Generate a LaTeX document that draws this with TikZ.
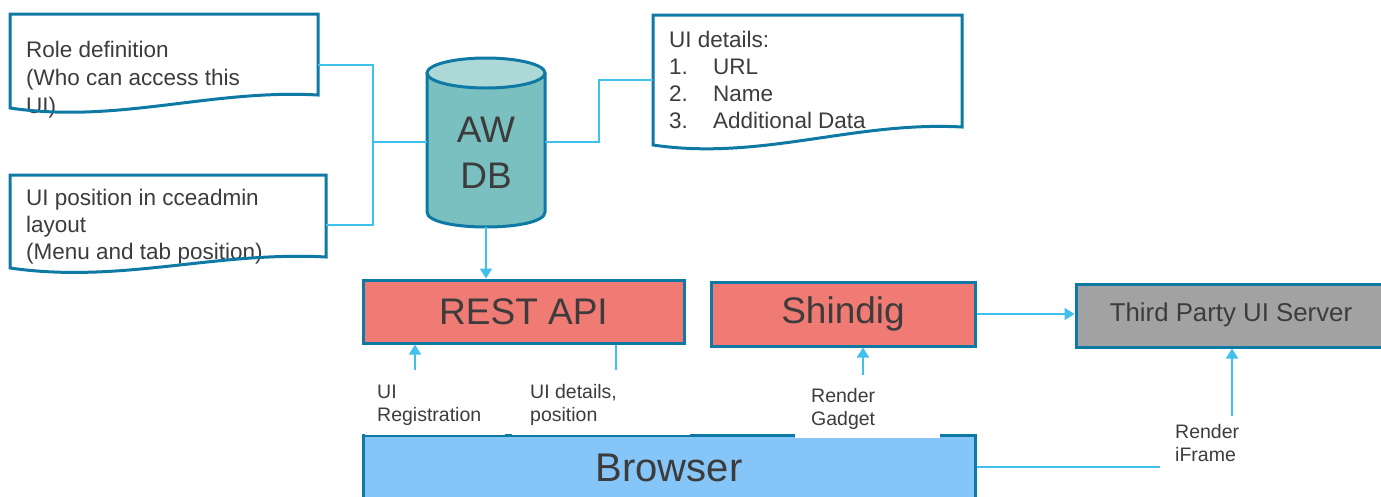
\documentclass[tikz,border=0pt]{standalone}
\usepackage{fontspec}
\setmainfont{Liberation Sans}
\usetikzlibrary{arrows.meta}
\definecolor{bord}{RGB}{14,122,164}
\definecolor{cyanl}{RGB}{64,192,236}
\definecolor{salmon}{RGB}{240,122,116}
\definecolor{grayf}{RGB}{162,162,162}
\definecolor{browf}{RGB}{134,197,247}
\definecolor{tealf}{RGB}{122,192,192}
\definecolor{tealt}{RGB}{172,216,216}
\definecolor{txt}{RGB}{60,60,60}
\tikzset{
  box/.style={draw=bord, line width=3pt, inner sep=0pt, text=txt},
  link/.style={draw=cyanl, line width=1.8pt},
  arr/.style={link, -{Triangle[width=12pt,length=10pt]}},
  lbl/.style={font=\fontsize{19.5}{23}\selectfont, text=txt, anchor=base west, inner sep=0pt},
  doctext/.style={font=\fontsize{22.5}{27}\selectfont, text=txt, anchor=base west, inner sep=0pt},
  bigtext/.style={font=\fontsize{37}{44}\selectfont},
  docline/.style={draw=bord, line width=3pt, line join=miter},
}
\newcommand{\docpath}[5]{(#1,#2) -- (#3,#2) -- (#3,#4) .. controls ({#3-0.35*(#3-#1)},{#4-6}) and ({#1+0.35*(#3-#1)},{#5+16}) .. (#1,#5) -- cycle}
\begin{document}
\begin{tikzpicture}[x=1pt,y=-1pt]
\useasboundingbox (0,0) rectangle (1381,496);
\clip (0,0) rectangle (1381,496);

% documents
\fill[white] \docpath{10}{14}{318}{95}{108};
\node[doctext] (d1a) at (26,57) {Role definition};
\node[doctext] (d1b) at (26,85) {(Who can access this};
\node[doctext] (d1c) at (26,113) {UI)};
\draw[docline] \docpath{10}{14}{318}{95}{108};
\node[inner sep=0pt, minimum width=308pt, minimum height=81pt] (doc1) at (164,54.5) {};

\fill[white] \docpath{10}{175}{326}{257}{268};
\node[doctext] (d2a) at (26,205) {UI position in cceadmin};
\node[doctext] (d2b) at (26,232) {layout};
\node[doctext] (d2c) at (26,259) {(Menu and tab position)};
\draw[docline] \docpath{10}{175}{326}{257}{268};
\node[inner sep=0pt, minimum width=316pt, minimum height=82pt] (doc2) at (168,216) {};

\fill[white] \docpath{653}{15}{962}{127}{145};
\node[doctext] (d3a) at (669,47) {UI details:};
\node[doctext] (d3n1) at (669,74) {1.};
\node[doctext] (d3t1) at (713,74) {URL};
\node[doctext] (d3n2) at (669,101) {2.};
\node[doctext] (d3t2) at (713,101) {Name};
\node[doctext] (d3n3) at (669,128) {3.};
\node[doctext] (d3t3) at (713,128) {Additional Data};
\draw[docline] \docpath{653}{15}{962}{127}{145};
\node[inner sep=0pt, minimum width=309pt, minimum height=112pt] (doc3) at (807.5,71) {};

% database cylinder
\fill[tealf] (427,73) -- (427,212) .. controls (427,232) and (545,232) .. (545,212) -- (545,73) -- cycle;
\draw[bord, line width=3pt] (427,73) -- (427,212) .. controls (427,232) and (545,232) .. (545,212) -- (545,73);
\draw[bord, line width=3pt, fill=tealt] (486,73) ellipse [x radius=59pt, y radius=15pt];
\node[inner sep=0pt, minimum width=118pt, minimum height=169pt] (db) at (486,142.5) {};
\node[bigtext, text=txt, inner sep=0pt, anchor=base] (dbt1) at (486,142) {AW};
\node[bigtext, text=txt, inner sep=0pt, anchor=base] (dbt2) at (486,188) {DB};

% boxes
\node[box, fill=salmon, minimum width=321pt, minimum height=63pt, bigtext] (rest) at (523.5,311.5) {REST API};
\node[box, fill=salmon, minimum width=264pt, minimum height=64pt, bigtext] (shin) at (843,314) {Shindig};
\node[box, fill=grayf, minimum width=316pt, minimum height=63pt] (third) at (1234,315.5) {};
\node[text=txt, font=\fontsize{25.8}{30}\selectfont, inner sep=0pt] (thirdt) at (1231,315) {Third Party UI Server};
\node[box, fill=browf, minimum width=612pt, minimum height=66pt, font=\fontsize{40}{46}\selectfont] (brow) at (669,468) {Browser};

% label backgrounds cutting the browser top border
\fill[white] (365,378) rectangle (505,435.2);
\fill[white] (512,378) rectangle (690,435.2);
\fill[white] (795,378) rectangle (940,437.5);

% connectors
\coordinate (j1) at (373,65);
\coordinate (j2) at (373,225);
\coordinate (j3) at (373,142);
\draw[link] (doc1.east |- j1) -- (j1) -- (j2) -- (doc2.east |- j2);
\draw[link] (j3) -- (db.west |- j3);
\coordinate (k1) at (599,142);
\coordinate (k2) at (599,80);
\draw[link] (db.east |- k1) -- (k1) -- (k2) -- (doc3.west |- k2);
\draw[arr] (db.south) -- (rest.north -| db.south);
\draw[arr] (shin.east) -- (third.west |- shin.east);

\coordinate (reg) at (415,370);
\draw[arr] (reg) -- (reg |- rest.south);
\coordinate (det) at (616,370);
\draw[link] (det |- rest.south) -- (det);
\coordinate (gad) at (863,375);
\draw[arr] (gad) -- (gad |- shin.south);
\coordinate (ifr) at (1232,416);
\draw[arr] (ifr) -- (ifr |- third.south);
\coordinate (bl) at (1160,467);
\draw[link] (brow.east |- bl) -- (bl);

% labels
\node[lbl] (l1a) at (377,398) {UI};
\node[lbl] (l1b) at (377,421) {Registration};
\node[lbl] (l2a) at (530,398) {UI details,};
\node[lbl] (l2b) at (530,421) {position};
\node[lbl] (l3a) at (811,402) {Render};
\node[lbl] (l3b) at (811,425) {Gadget};
\node[lbl] (l4a) at (1175,438) {Render};
\node[lbl] (l4b) at (1175,461) {iFrame};
\end{tikzpicture}
\end{document}
